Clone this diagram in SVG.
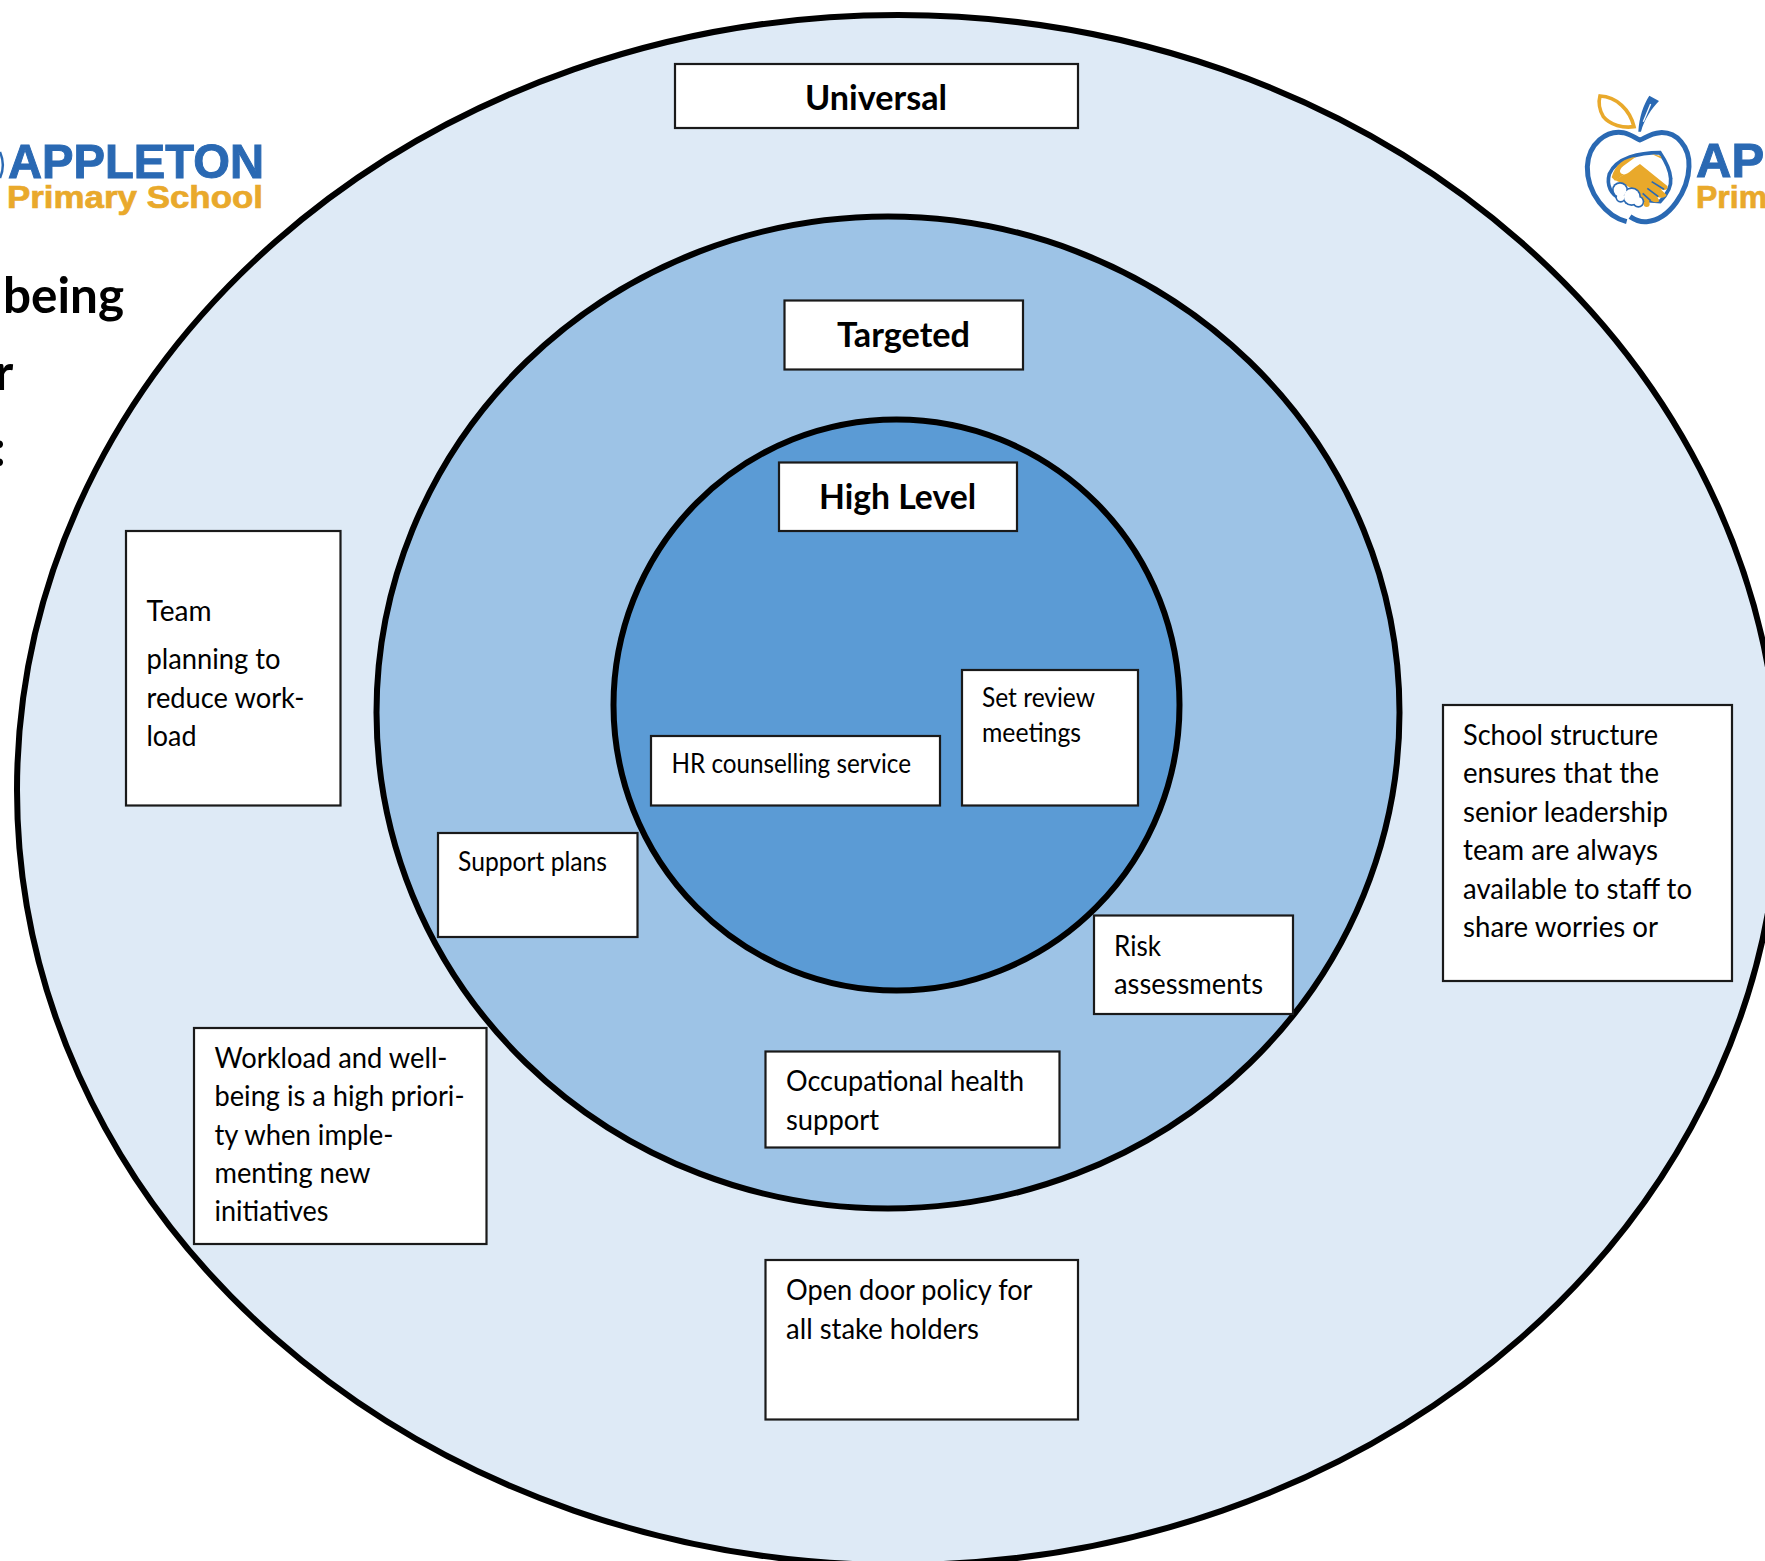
<svg xmlns="http://www.w3.org/2000/svg" width="1765" height="1561" viewBox="0 0 1765 1561">
<style>
.ring{stroke:#000;stroke-width:6}
.box{fill:#fff;stroke:#1a1a1a;stroke-width:2.200}
text{font-family:"Lato","Open Sans","Liberation Sans",sans-serif;fill:#000}
.t{font-size:28px}
.s{font-size:26px}
.h{font-size:35px;font-weight:700}
.b{font-size:49px;font-weight:700}
.lg{font-family:"Liberation Sans",Arial,sans-serif;font-weight:700;fill:#2a69b3;stroke:#2a69b3;stroke-width:1;font-size:49px}
.lo{font-family:"Liberation Sans",Arial,sans-serif;font-weight:700;fill:#e9a92b;stroke:#e9a92b;stroke-width:.7;font-size:32px}
</style>
<rect width="1765" height="1561" fill="#fff"/>
<g id="rings">
<ellipse id="universal-ring" class="ring" cx="898" cy="790" rx="881" ry="775" fill="#deeaf6"/>
<ellipse id="targeted-ring" class="ring" cx="888" cy="712.500" rx="511.500" ry="496" fill="#9dc3e6"/>
<ellipse id="high-ring" class="ring" cx="896.500" cy="705" rx="283" ry="285.500" fill="#5b9bd5"/>
</g>
<g id="logo-left">
<path d="M0,152 C3.500,160 3.500,170 0,178" fill="none" stroke="#2a69b3" stroke-width="2.500"/>
<text class="lg" x="8" y="178" textLength="256" lengthAdjust="spacingAndGlyphs">APPLETON</text>
<text class="lo" x="7" y="208" textLength="256" lengthAdjust="spacingAndGlyphs">Primary School</text>
</g>
<g id="title-left">
<text class="b" x="3" y="313" textLength="121" lengthAdjust="spacingAndGlyphs">being</text>
<text class="b" x="-5" y="390">r</text>
<text class="b" x="-7" y="466">:</text>
</g>
<g id="logo-right">
<g transform="translate(1560 80) scale(.3333)">
<path d="M120,48 C170,50 210,90 222,140 C190,145 150,135 130,110 C118,90 115,65 120,48 Z" fill="none" stroke="#e9a92b" stroke-width="11"/>
<path d="M235,155 C238,110 250,75 268,47 L297,63 C275,85 252,120 243,155 Z" fill="#2a69b3"/>
<path d="M250,125 L272,72" stroke="#fff" stroke-width="4" fill="none"/>
<path d="M200,425 C140,410 80,340 82,260 C85,190 140,150 190,158 C215,163 230,178 240,180 C255,175 270,160 300,158 C350,155 390,200 387,260 C385,330 330,420 260,425 C240,427 225,420 210,410" fill="none" stroke="#2a69b3" stroke-width="15"/>
<path d="M300,218 C240,218 170,232 148,282 C138,318 155,345 180,355 L300,365 C320,345 335,320 332,295 C330,265 315,240 300,218 Z" fill="#fff" stroke="#2a69b3" stroke-width="11"/>
<path d="M155,292 C165,252 195,234 228,230 L190,258 C175,270 178,282 192,283 L165,302 Z" fill="#e9a92b"/>
<path d="M275,222 L302,228 L305,236 Z" fill="#e9a92b"/>
<path d="M190,284 C205,284 222,262 240,252 L322,318 C326,330 312,333 302,328 L320,345 C315,356 300,354 292,350 L298,364 C290,370 280,366 270,360 L262,376 L225,330 L165,300 Z" fill="#e9a92b"/>
<path d="M275,305 L312,328 M262,325 L295,350 M248,340 L272,362" stroke="#2a69b3" stroke-width="5" fill="none"/>
<g fill="#2a69b3"><circle cx="180" cy="330" r="24"/><circle cx="215" cy="350" r="28"/><circle cx="235" cy="365" r="18"/><circle cx="182" cy="352" r="16"/></g>
<g fill="#fff"><circle cx="180" cy="330" r="19"/><circle cx="215" cy="350" r="23"/><circle cx="235" cy="365" r="13"/><circle cx="182" cy="352" r="11"/></g>
<circle cx="260" cy="372" r="9" fill="#e9a92b"/>
</g>
<text class="lg" x="1696" y="177">AP</text>
<text class="lo" x="1696" y="208">Prim</text>
</g>
<g id="node-universal"><rect class="box" x="675" y="64" width="403" height="64"/><text class="h" x="805" y="110" textLength="142" lengthAdjust="spacingAndGlyphs">Universal</text></g>
<g id="node-targeted"><rect class="box" x="784.500" y="300.500" width="238.500" height="69"/><text class="h" x="837" y="347" textLength="133" lengthAdjust="spacingAndGlyphs">Targeted</text></g>
<g id="node-high"><rect class="box" x="779" y="462.500" width="238" height="68.500"/><text class="h" x="819" y="509" textLength="157" lengthAdjust="spacingAndGlyphs">High Level</text></g>
<g id="node-team"><rect class="box" x="126" y="531" width="214.500" height="274.500"/>
<text class="t" x="146.500" y="621" textLength="65" lengthAdjust="spacingAndGlyphs">Team</text><text class="t" x="146.500" y="669" textLength="134" lengthAdjust="spacingAndGlyphs">planning to</text><text class="t" x="146.500" y="708" textLength="158" lengthAdjust="spacingAndGlyphs">reduce work-</text><text class="t" x="146.500" y="746" textLength="50" lengthAdjust="spacingAndGlyphs">load</text></g>
<g id="node-support"><rect class="box" x="438" y="833" width="199.500" height="104"/><text class="s" x="458" y="871" textLength="149" lengthAdjust="spacingAndGlyphs">Support plans</text></g>
<g id="node-hr"><rect class="box" x="651" y="736" width="289" height="69.500"/><text class="s" x="671.500" y="773" textLength="239.500" lengthAdjust="spacingAndGlyphs">HR counselling service</text></g>
<g id="node-review"><rect class="box" x="962" y="670" width="176" height="135.500"/><text class="s" x="982" y="707" textLength="113" lengthAdjust="spacingAndGlyphs">Set review</text><text class="s" x="982" y="742" textLength="99" lengthAdjust="spacingAndGlyphs">meetings</text></g>
<g id="node-risk"><rect class="box" x="1094" y="915.500" width="199" height="98.500"/><text class="t" x="1114" y="956" textLength="47" lengthAdjust="spacingAndGlyphs">Risk</text><text class="t" x="1114" y="994" textLength="149" lengthAdjust="spacingAndGlyphs">assessments</text></g>
<g id="node-occupational"><rect class="box" x="765.500" y="1051.500" width="294" height="96"/><text class="t" x="786" y="1091" textLength="238" lengthAdjust="spacingAndGlyphs">Occupational health</text><text class="t" x="786" y="1130" textLength="93" lengthAdjust="spacingAndGlyphs">support</text></g>
<g id="node-school"><rect class="box" x="1443" y="705" width="289" height="276"/>
<text class="t" x="1463" y="745" textLength="195" lengthAdjust="spacingAndGlyphs">School structure</text>
<text class="t" x="1463" y="783" textLength="196" lengthAdjust="spacingAndGlyphs">ensures that the</text>
<text class="t" x="1463" y="822" textLength="205" lengthAdjust="spacingAndGlyphs">senior leadership</text>
<text class="t" x="1463" y="860" textLength="195" lengthAdjust="spacingAndGlyphs">team are always</text>
<text class="t" x="1463" y="899" textLength="229" lengthAdjust="spacingAndGlyphs">available to staff to</text>
<text class="t" x="1463" y="937" textLength="195" lengthAdjust="spacingAndGlyphs">share worries or</text></g>
<g id="node-workload"><rect class="box" x="194" y="1028" width="292.500" height="216"/>
<text class="t" x="214.500" y="1068" textLength="233" lengthAdjust="spacingAndGlyphs">Workload and well-</text>
<text class="t" x="214.500" y="1106" textLength="250" lengthAdjust="spacingAndGlyphs">being is a high priori-</text>
<text class="t" x="214.500" y="1145" textLength="179" lengthAdjust="spacingAndGlyphs">ty when imple-</text>
<text class="t" x="214.500" y="1183" textLength="156" lengthAdjust="spacingAndGlyphs">menting new</text>
<text class="t" x="214.500" y="1221" textLength="114" lengthAdjust="spacingAndGlyphs">initiatives</text></g>
<g id="node-open"><rect class="box" x="765.500" y="1260" width="312.500" height="159.500"/><text class="t" x="786" y="1300" textLength="246.500" lengthAdjust="spacingAndGlyphs">Open door policy for</text><text class="t" x="786" y="1339" textLength="193" lengthAdjust="spacingAndGlyphs">all stake holders</text></g>
</svg>
